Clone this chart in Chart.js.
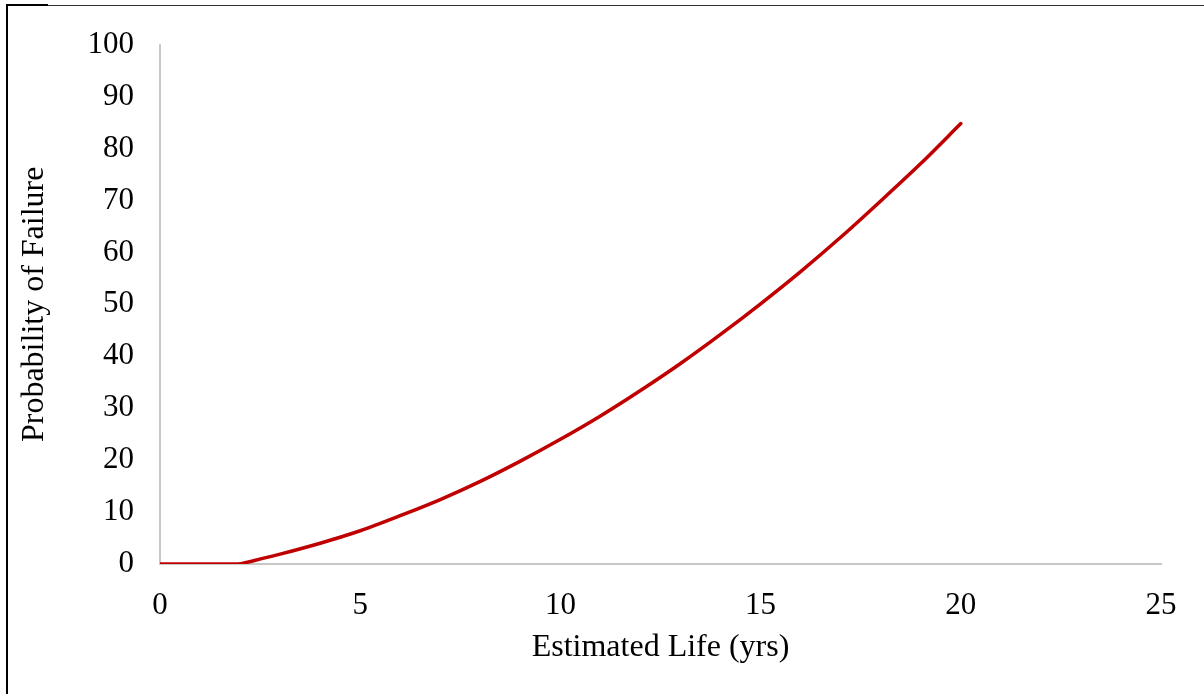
<!DOCTYPE html>
<html>
<head>
<meta charset="utf-8">
<script src="https://cdn.jsdelivr.net/npm/chart.js@4/dist/chart.umd.min.js"></script>
<style>
  html, body { margin: 0; padding: 0; background: #fff; }
  #wrap { position: relative; width: 1204px; height: 694px; }
  #frameLeft { position: absolute; left: 6px; top: 4px; width: 2px; height: 690px; background: #000; }
  #frameTop { position: absolute; left: 6px; top: 5px; width: 1198px; height: 1px; background: #333; }
  #frameTopDark { position: absolute; left: 6px; top: 4px; width: 42px; height: 2px; background: #000; }
  canvas { position: absolute; left: 0; top: 0; }
</style>
</head>
<body>
<div id="wrap">
  <canvas id="myChart" width="1204" height="694"></canvas>
  <div id="frameLeft"></div>
  <div id="frameTop"></div>
  <div id="frameTopDark"></div>
</div>
<script>
"use strict";

// values
const lifeYears = [0, 1, 2, 3, 4, 5, 6, 7, 8, 9, 10, 11, 12, 13, 14, 15, 16, 17, 18, 19, 20];
const failureProb = [0, 0, 0, 1.9, 4.0, 6.4, 9.3, 12.4, 15.9, 19.8, 24.0, 28.5, 33.4, 38.6, 44.2, 50.1, 56.3, 62.9, 69.9, 77.1, 84.8];
const xTicks = [0, 5, 10, 15, 20, 25];
const yTicks = [0, 10, 20, 30, 40, 50, 60, 70, 80, 90, 100];

const toPoints = (from, to) => lifeYears.slice(from, to).map((x, i) => ({ x: x, y: failureProb[from + i] }));

// flat part kept separate so the curve keeps its kink at 2 yrs
const flatPart = toPoints(0, 3);
const curvePart = toPoints(2, lifeYears.length);

const lineColor = '#c00000';
const fontFamily = "'Liberation Serif', 'Times New Roman', serif";

const ctx = document.getElementById('myChart');

new Chart(ctx, {
    type: 'scatter',
    data: {
        datasets: [{
            data: flatPart,
            showLine: true,
            borderColor: lineColor,
            borderWidth: 3.5,
            pointRadius: 0,
            tension: 0
        }, {
            data: curvePart,
            showLine: true,
            borderColor: lineColor,
            borderWidth: 3.5,
            pointRadius: 0,
            borderCapStyle: 'round',
            tension: 0.3
        }]
    },
    options: {
        responsive: false,
        animation: false,
        layout: {
            padding: { top: 37, right: 43, left: 0, bottom: 0 }
        },
        plugins: {
            legend: { display: false },
            tooltip: { enabled: false }
        },
        scales: {
            x: {
                type: 'linear',
                min: 0,
                max: 25,
                afterBuildTicks: (axis) => { axis.ticks = xTicks.map(v => ({ value: v })); },
                afterFit: (axis) => { axis.height = 130; },
                grid: { display: false, drawTicks: false },
                border: { display: true, color: '#c8c8c8', width: 2 },
                ticks: {
                    color: '#000',
                    padding: 23,
                    font: { family: fontFamily, size: 31 }
                },
                title: {
                    display: true,
                    text: 'Estimated Life (yrs)',
                    color: '#000',
                    font: { family: fontFamily, size: 32 },
                    padding: { top: 0, bottom: 27 }
                }
            },
            y: {
                min: 0,
                max: 100,
                afterBuildTicks: (axis) => { axis.ticks = yTicks.map(v => ({ value: v })); },
                afterFit: (axis) => { axis.width = 160; },
                grid: { display: false, drawTicks: false },
                border: { display: true, color: '#c8c8c8', width: 2 },
                ticks: {
                    color: '#000',
                    padding: 26,
                    font: { family: fontFamily, size: 31 }
                },
                title: {
                    display: true,
                    text: 'Probability of Failure',
                    color: '#000',
                    font: { family: fontFamily, size: 32 },
                    padding: { top: 15, bottom: 0 }
                }
            }
        }
    }
});
</script>
</body>
</html>
